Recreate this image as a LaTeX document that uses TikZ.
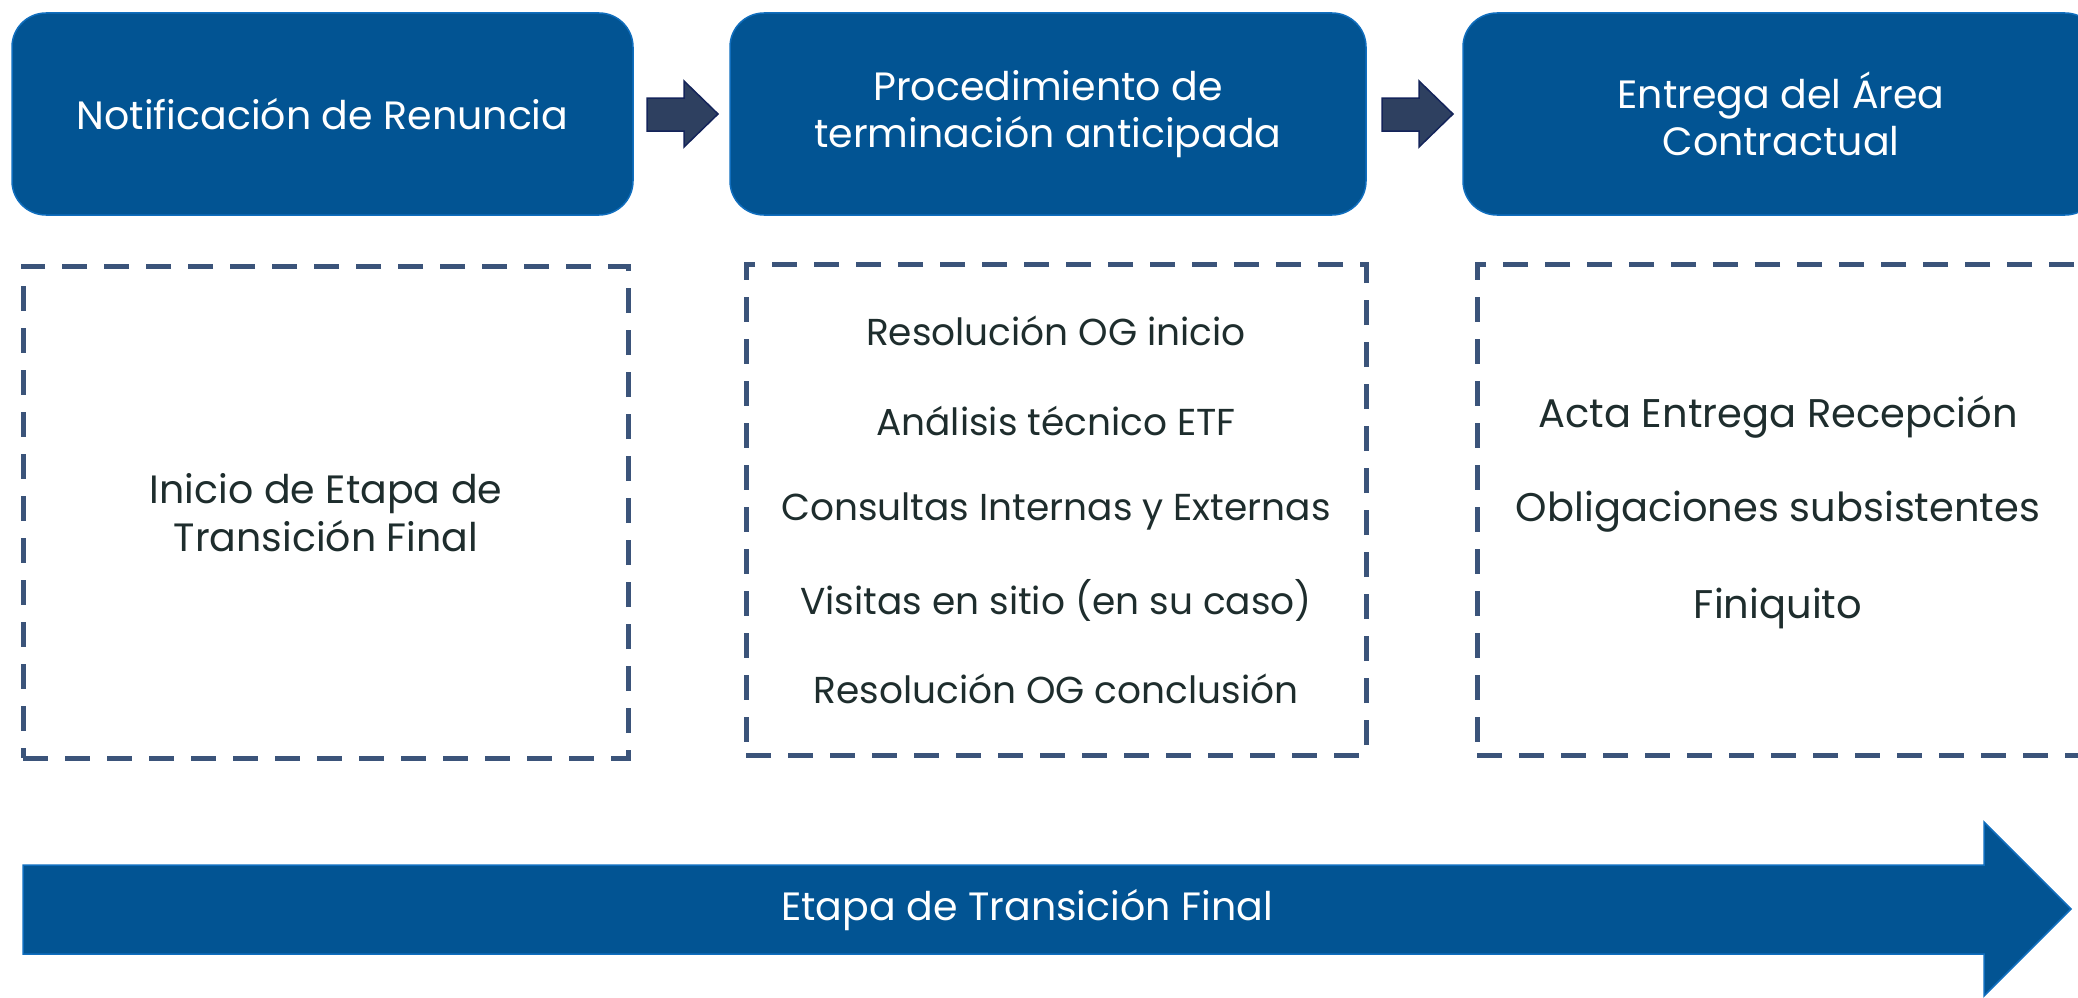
\documentclass[tikz,border=0pt]{standalone}
\usepackage{fontspec}
\setmainfont{Poppins}
\definecolor{boxblue}{RGB}{2,84,147}
\definecolor{boxedge}{RGB}{16,110,190}
\definecolor{smallarr}{RGB}{46,64,96}
\definecolor{smalledge}{RGB}{20,36,90}
\definecolor{dashcol}{RGB}{59,84,122}
\definecolor{txtdark}{RGB}{30,45,45}
\begin{document}
\begin{tikzpicture}[x=1pt,y=-1pt,
  head/.style={draw=boxedge,line width=1.5pt,fill=boxblue,rounded corners=34pt,
     text=white,align=center,font=\fontsize{39.5}{47}\selectfont,inner sep=0pt},
  listbox/.style={draw=dashcol,line width=5pt,dash pattern=on 25pt off 17pt,
     inner sep=0pt},
  item/.style={text=txtdark,font=\fontsize{37.5}{44}\selectfont,anchor=center,inner sep=0pt},
  bigitem/.style={item,font=\fontsize{40}{46}\selectfont},
  blockarr/.style={draw=smalledge,line width=1.5pt,fill=smallarr},
  bigarr/.style={draw=boxedge,line width=1.5pt,fill=boxblue}]
\useasboundingbox (0,0) rectangle (2078,998);
% header boxes
\node[head,minimum width=621pt,minimum height=202pt] (h1) at (322.5,114) {Notificación de Renuncia};
\node[head,minimum width=636pt,minimum height=202pt] (h2) at (1048,114) {Procedimiento de\\terminación anticipada};
\node[head,minimum width=636pt,minimum height=202pt] (h3) at (1781,114) {Entrega del Área\\Contractual};
% small block arrows
\draw[blockarr] (647,98) -- (684,98) -- (684,81) -- (718,114) -- (684,147) -- (684,131) -- (647,131) -- cycle;
\draw[blockarr] (1382,98) -- (1419,98) -- (1419,81) -- (1453,114) -- (1419,147) -- (1419,131) -- (1382,131) -- cycle;
% dashed boxes
\node[listbox,minimum width=605pt,minimum height=492pt] (d1) at (325.5,512) {};
\node[listbox,minimum width=620pt,minimum height=491pt] (d2) at (1056,509.5) {};
\node[listbox,minimum width=620pt,minimum height=491pt] (d3) at (1787,509.5) {};
% texts
\node[item,align=center,font=\fontsize{39.5}{48}\selectfont] (t1) at (326,513) {Inicio de Etapa de\\Transición Final};
\node[item] (a1) at (1056,331) {Resolución OG inicio};
\node[item] (a2) at (1056,421) {Análisis técnico ETF};
\node[item] (a3) at (1056,511) {Consultas Internas y Externas};
\node[item] (a4) at (1056,600) {Visitas en sitio (en su caso)};
\node[item] (a5) at (1056,689) {Resolución OG conclusión};
\node[bigitem] (b1) at (1778,417) {Acta Entrega Recepción};
\node[bigitem] (b2) at (1778,512) {Obligaciones subsistentes};
\node[bigitem] (b3) at (1778,608) {Finiquito};
% big arrow
\draw[bigarr] (23,865) -- (1984,865) -- (1984,822) -- (2071,909) -- (1984,996) -- (1984,954) -- (23,954) -- cycle;
\node[text=white,font=\fontsize{39.5}{47}\selectfont] (bt) at (1027,910) {Etapa de Transición Final};
\end{tikzpicture}
\end{document}
